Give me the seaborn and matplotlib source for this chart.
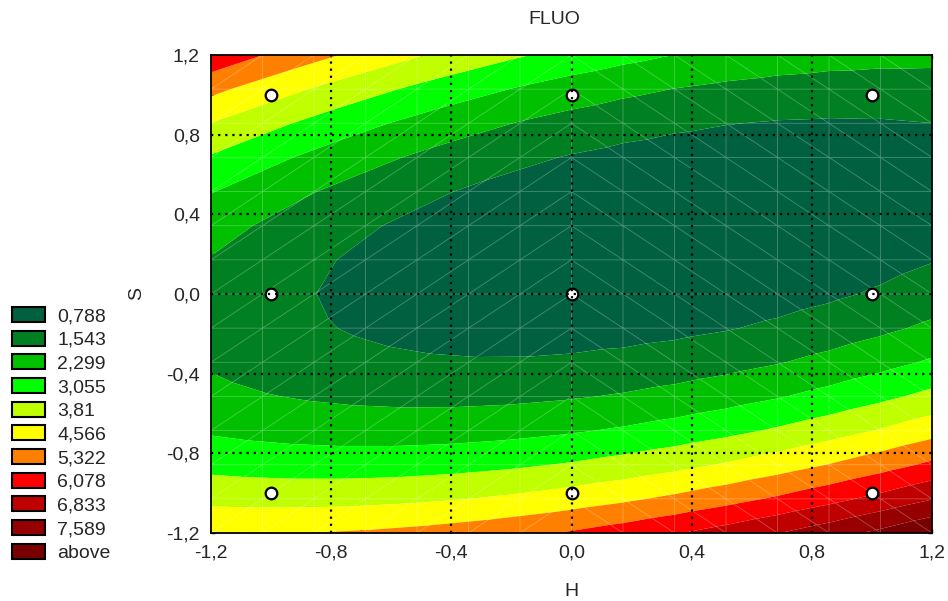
import numpy as np
import pandas as pd
import matplotlib
matplotlib.use("Agg")
import matplotlib.pyplot as plt
import matplotlib.tri as mtri
from matplotlib.patches import Patch
from matplotlib.ticker import MultipleLocator, FuncFormatter
import seaborn as sns

# ---- data: 3x3 design points (H, S) and observed response FLUO ----
design_H = [-1, -1, -1, 0, 0, 0, 1, 1, 1]
design_S = [-1, 0, 1, -1, 0, 1, -1, 0, 1]
fluo = [3.41, 1.00, 3.99, 3.99, 0.21, 1.83, 6.00, 0.84, 1.09]

level_bounds = [0.788, 1.543, 2.299, 3.055, 3.81, 4.566, 5.322, 6.078, 6.833, 7.589]
legend_labels = ["0,788", "1,543", "2,299", "3,055", "3,81", "4,566",
                 "5,322", "6,078", "6,833", "7,589", "above"]
band_colors = ["#006040", "#008020", "#00C000", "#00FF00", "#C0FF00", "#FFFF00",
               "#FF8000", "#FF0000", "#C00000", "#960000", "#780000"]
tick_values = [-1.2, -0.8, -0.4, 0.0, 0.4, 0.8, 1.2]

df = pd.DataFrame({"H": design_H, "S": design_S, "FLUO": fluo})

# ---- quadratic response-surface fit (least squares) ----
def terms(h, s):
    h = np.asarray(h, float); s = np.asarray(s, float)
    return np.column_stack([np.ones_like(h), h, s, h * h, s * s, h * s])

coef, *_ = np.linalg.lstsq(terms(df.H, df.S), df.FLUO.to_numpy(), rcond=None)

n = 15
g = np.linspace(-1.2, 1.2, n)
HH, SS = np.meshgrid(g, g)
hx = HH.ravel(); sy = SS.ravel()
z = terms(hx, sy) @ coef

tris = []
for j in range(n - 1):
    for i in range(n - 1):
        ll = j * n + i; lr = ll + 1; ul = ll + n; ur = ul + 1
        if g[i] < -1e-9:
            tris += [[ll, lr, ur], [ll, ur, ul]]
        else:
            tris += [[ll, lr, ul], [lr, ur, ul]]
tri = mtri.Triangulation(hx, sy, np.array(tris))

# ---- figure ----
sns.set_style("white")
plt.rcParams["font.family"] = ["Liberation Sans", "DejaVu Sans"]
fs = 14

fig = plt.figure(figsize=(9.48, 6.01), dpi=100)
ax = fig.add_axes([211 / 948, 1 - 533 / 601, 721 / 948, 478 / 601])

levels = [min(z.min(), 0) - 1] + level_bounds + [z.max() + 1]
ax.tricontourf(tri, z, levels=levels, colors=band_colors, antialiased=True)
ax.triplot(tri, color="white", alpha=0.28, lw=0.6)

sns.scatterplot(data=df, x="H", y="S", ax=ax, s=70, color="white",
                edgecolor="black", linewidth=1.6, zorder=5, legend=False)

for v in [-0.8, -0.4, 0.0, 0.4, 0.8]:
    ax.axvline(v, color="black", lw=1.6, ls=(0, (1, 2.2)), zorder=6)
    ax.axhline(v, color="black", lw=1.6, ls=(0, (1, 2.2)), zorder=6)

ax.set_xlim(-1.2, 1.2)
ax.set_ylim(-1.2, 1.2)
fmt = FuncFormatter(lambda v, p: f"{abs(v) if abs(v) < 1e-9 else v:.1f}".replace(".", ","))
ax.set_xticks(tick_values)
ax.set_yticks(tick_values)
ax.xaxis.set_major_formatter(fmt)
ax.yaxis.set_major_formatter(fmt)
ax.xaxis.set_minor_locator(MultipleLocator(0.1))
ax.yaxis.set_minor_locator(MultipleLocator(0.1))
ax.tick_params(which="both", direction="in", top=True, right=True, bottom=True, left=True,
               length=3, width=1.0, color="black")
ax.tick_params(which="major", labelsize=fs, pad=8)
for sp in ax.spines.values():
    sp.set_color("black"); sp.set_linewidth(1.3); sp.set_zorder(7)

ax.set_xlabel("H", fontsize=fs, va="center")
ax.set_ylabel("S", fontsize=fs, va="center")
ax.xaxis.set_label_coords(0.5, (533 - 591) / 478)
ax.yaxis.set_label_coords((137 - 211) / 721, 0.5)

fig.text(554 / 948, 1 - 19 / 601, "FLUO", ha="center", va="center", fontsize=fs)

handles = [Patch(facecolor=c, edgecolor="black", linewidth=1.5) for c in band_colors]
fig.legend(handles, legend_labels, loc="upper left", bbox_to_anchor=(12 / 948, 1 - 307 / 601),
           frameon=False, fontsize=fs, handlelength=1.7, handleheight=0.82,
           handletextpad=0.62, labelspacing=0.275, borderpad=0, borderaxespad=0)

fig.savefig("out.png", dpi=100)
